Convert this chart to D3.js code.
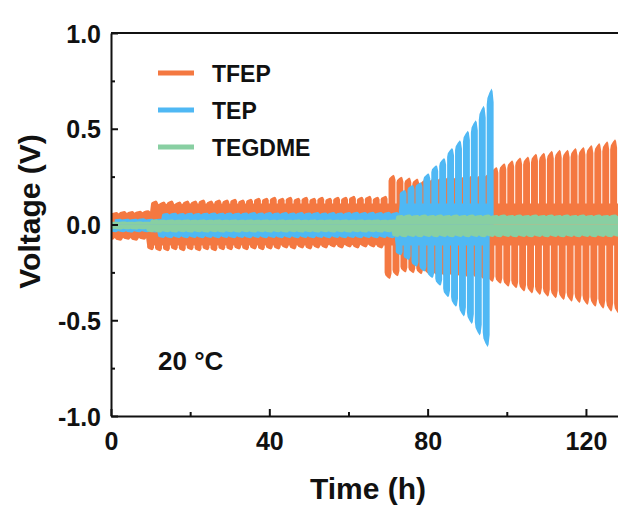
<!DOCTYPE html>
<html>
<head>
<meta charset="UTF-8">
<script src="https://cdn.jsdelivr.net/npm/d3@7"></script>
<style>
  body { margin: 0; background: #fff; }
  svg { display: block; font-family: "Liberation Sans", Arial, sans-serif; font-weight: bold; }
</style>
</head>
<body>
<div id="chart"></div>
<script>
// cycling data, one peak value per 2 h cycle
const period = 2;
const seriesNames = ['TFEP', 'TEP', 'TEGDME'];
const seriesColors = ['#f47841', '#4fb8f4', '#88cfa2'];

const tfepUpper = [0.065, 0.07, 0.07, 0.072, 0.075,
  0.125, 0.12, 0.125, 0.12, 0.125, 0.125, 0.13, 0.125, 0.13, 0.13,
  0.135, 0.13, 0.135, 0.14, 0.14, 0.145, 0.14, 0.145, 0.14, 0.145,
  0.14, 0.145, 0.14, 0.145, 0.145, 0.15, 0.145, 0.15, 0.145, 0.15,
  0.26, 0.25, 0.245, 0.24, 0.235,
  0.24, 0.245, 0.25, 0.25, 0.255, 0.26, 0.26, 0.265,
  0.30, 0.32, 0.335, 0.35, 0.355, 0.37, 0.375, 0.385, 0.39, 0.39,
  0.40, 0.405, 0.415, 0.425, 0.435, 0.445, 0.45];
const tfepLower = [-0.08, -0.085, -0.08, -0.085, -0.08,
  -0.135, -0.14, -0.14, -0.135, -0.14, -0.135, -0.14, -0.135, -0.14, -0.135,
  -0.135, -0.13, -0.135, -0.13, -0.135, -0.13, -0.13, -0.125, -0.13, -0.125,
  -0.13, -0.125, -0.125, -0.12, -0.125, -0.12, -0.125, -0.12, -0.12, -0.125,
  -0.285, -0.27, -0.25, -0.255, -0.26,
  -0.26, -0.265, -0.27, -0.27, -0.275, -0.28, -0.28, -0.29,
  -0.30, -0.31, -0.325, -0.333, -0.35, -0.36, -0.368, -0.377, -0.385, -0.394,
  -0.403, -0.41, -0.42, -0.43, -0.44, -0.455, -0.47];

const tepUpper = [0.03, 0.03, 0.03, 0.032, 0.03, 0.03,
  0.06, 0.062, 0.06, 0.062, 0.06, 0.062, 0.063, 0.062, 0.063, 0.062,
  0.063, 0.065, 0.063, 0.065, 0.063, 0.065, 0.063, 0.065, 0.063, 0.065,
  0.063, 0.065, 0.063, 0.065, 0.066, 0.065, 0.066, 0.065, 0.066, 0.065,
  0.18, 0.206, 0.22, 0.267, 0.31, 0.347, 0.40, 0.44, 0.49, 0.545, 0.62, 0.71];
const tepLower = [-0.04, -0.04, -0.042, -0.04, -0.04, -0.042,
  -0.07, -0.072, -0.07, -0.072, -0.07, -0.072, -0.07, -0.072, -0.07, -0.072,
  -0.07, -0.072, -0.07, -0.072, -0.07, -0.072, -0.07, -0.072, -0.07, -0.072,
  -0.07, -0.072, -0.07, -0.072, -0.07, -0.072, -0.07, -0.072, -0.07, -0.072,
  -0.16, -0.185, -0.22, -0.246, -0.28, -0.32, -0.38, -0.43, -0.48, -0.52, -0.58, -0.64];

const tegUpper = [0.015, 0.016, 0.015, 0.016, 0.015,
  0.026, 0.025, 0.026, 0.025, 0.026, 0.025, 0.026, 0.025, 0.026, 0.025,
  0.026, 0.025, 0.026, 0.025, 0.026, 0.025, 0.026, 0.025, 0.026, 0.025,
  0.026, 0.025, 0.026, 0.025, 0.026, 0.025, 0.026, 0.025, 0.026, 0.025, 0.026,
  0.05, 0.052, 0.05, 0.052, 0.05, 0.052, 0.05, 0.052, 0.05, 0.052,
  0.05, 0.052, 0.05, 0.052, 0.05, 0.052, 0.05, 0.052, 0.05, 0.052,
  0.05, 0.052, 0.05, 0.052, 0.05, 0.052, 0.05, 0.052, 0.05];
const tegLower = [-0.025, -0.026, -0.025, -0.026, -0.025,
  -0.04, -0.042, -0.04, -0.042, -0.04, -0.042, -0.04, -0.042, -0.04, -0.042,
  -0.04, -0.042, -0.04, -0.042, -0.04, -0.042, -0.04, -0.042, -0.04, -0.042,
  -0.04, -0.042, -0.04, -0.042, -0.04, -0.042, -0.04, -0.042, -0.04, -0.042, -0.04,
  -0.065, -0.067, -0.065, -0.067, -0.065, -0.067, -0.065, -0.067, -0.065, -0.067,
  -0.065, -0.067, -0.065, -0.067, -0.065, -0.067, -0.065, -0.067, -0.065, -0.067,
  -0.065, -0.067, -0.065, -0.067, -0.065, -0.067, -0.065, -0.067, -0.065];

// cycle start offset (h) and end of each test (h)
const seriesPhase = [0, 0.8, 0];
const seriesEnd = [140, 96.9, 140];

const xTicks = [0, 40, 80, 120];
const xMinor = [20, 60, 100];
const yTicks = [-1.0, -0.5, 0.0, 0.5, 1.0];
const yMinor = [-0.75, -0.25, 0.25, 0.75];

const width = 618, height = 506;
const margin = { top: 33, right: 0, bottom: 90, left: 111 };

const svg = d3.select('#chart').append('svg')
  .attr('width', width).attr('height', height);

const x = d3.scaleLinear().domain([0, 128.1]).range([margin.left, width]);
const y = d3.scaleLinear().domain([-1, 1]).range([height - margin.bottom, margin.top]);

svg.append('defs').append('clipPath').attr('id', 'plot')
  .append('rect')
  .attr('x', margin.left).attr('y', margin.top)
  .attr('width', width - margin.left).attr('height', y(-1) - y(1));

// finger shape of one half of a cycle: [fraction of cycle, fraction of peak]
const shape = [[0, 0.88], [0.1, 0.93], [0.4, 0.97], [0.7, 1], [0.85, 0.98], [1, 0.9]];
const gap = 0.25;

function fingerPoints(vals, phase, lead) {
  const pts = [];
  vals.forEach((p, i) => {
    const t0 = phase + period * i - lead;
    const a = t0 + gap / 2, e = t0 + period - gap / 2, w = e - a;
    const b = Math.sign(p) * Math.min(0.11, 0.88 * Math.abs(p));
    if (i === 0) pts.push([a, 0]);
    pts.push([a, b]);
    shape.forEach(([f, k]) => pts.push([a + f * w, k * p]));
    pts.push([e, b]);
    if (i === vals.length - 1) pts.push([e, 0]);
  });
  return pts;
}

const line = d3.line().x(d => x(d[0])).y(d => y(d[1]));

const seriesData = [[tfepUpper, tfepLower], [tepUpper, tepLower], [tegUpper, tegLower]];
const plot = svg.append('g').attr('clip-path', 'url(#plot)');

seriesData.forEach(([up, lo], s) => {
  const cid = 'clip' + s;
  svg.select('defs').append('clipPath').attr('id', cid)
    .append('rect')
    .attr('x', x(0)).attr('y', 0)
    .attr('width', x(seriesEnd[s]) - x(0)).attr('height', height);
  const g = plot.append('g').attr('clip-path', `url(#${cid})`);
  g.append('path')
    .attr('d', line(fingerPoints(up, seriesPhase[s], 0)) + 'Z')
    .attr('fill', seriesColors[s]);
  g.append('path')
    .attr('d', line(fingerPoints(lo, seriesPhase[s], 1)) + 'Z')
    .attr('fill', seriesColors[s]);
});

// axes
const axisColor = '#111';
const fmtY = d => d3.format('.1f')(d).replace('\u2212', '-');

svg.append('g')
  .attr('transform', `translate(0,${y(-1)})`)
  .call(d3.axisBottom(x).tickValues(xTicks).tickFormat(d3.format('d'))
    .tickSizeInner(-7).tickSizeOuter(0).tickPadding(16));
svg.append('g')
  .attr('transform', `translate(0,${y(-1)})`)
  .call(d3.axisBottom(x).tickValues(xMinor).tickFormat('').tickSizeInner(-4).tickSizeOuter(0))
  .select('.domain').remove();

const leftAxis = svg.append('g')
  .attr('transform', `translate(${x(0)},0)`)
  .call(d3.axisLeft(y).tickValues(yTicks).tickFormat(fmtY)
    .tickSizeInner(-7).tickSizeOuter(0).tickPadding(10));
svg.append('g')
  .attr('transform', `translate(${x(0)},0)`)
  .call(d3.axisLeft(y).tickValues(yMinor).tickFormat('').tickSizeInner(-4).tickSizeOuter(0))
  .select('.domain').remove();

svg.append('line')
  .attr('x1', x(0)).attr('x2', width)
  .attr('y1', y(1)).attr('y2', y(1))
  .attr('stroke', axisColor).attr('stroke-width', 2);

svg.selectAll('.domain').attr('stroke', axisColor).attr('stroke-width', 2);
svg.selectAll('.tick line').attr('stroke', axisColor).attr('stroke-width', 2);
svg.selectAll('.tick text')
  .attr('fill', axisColor)
  .style('font-size', '25px')
  .style('font-weight', 'bold')
  .style('font-family', '"Liberation Sans", Arial, sans-serif');
leftAxis.selectAll('.tick text').attr('dy', '0.36em');

svg.append('text')
  .attr('x', 368).attr('y', 499)
  .attr('text-anchor', 'middle')
  .attr('fill', axisColor)
  .style('font-size', '30px')
  .text('Time (h)');

svg.append('text')
  .attr('transform', `translate(40,${y(0) - 13}) rotate(-90)`)
  .attr('text-anchor', 'middle')
  .attr('fill', axisColor)
  .style('font-size', '30px')
  .text('Voltage (V)');

// legend
const legend = svg.append('g');
seriesNames.forEach((name, i) => {
  const ly = 73 + i * 37;
  legend.append('line')
    .attr('x1', 158).attr('x2', 194)
    .attr('y1', ly).attr('y2', ly)
    .attr('stroke', seriesColors[i]).attr('stroke-width', 5);
  legend.append('text')
    .attr('x', 212).attr('y', ly + 8.5)
    .attr('fill', axisColor)
    .style('font-size', '23px')
    .text(name);
});

svg.append('text')
  .attr('x', 158).attr('y', 370)
  .attr('fill', axisColor)
  .style('font-size', '26px')
  .text('20 °C');
</script>
</body>
</html>
